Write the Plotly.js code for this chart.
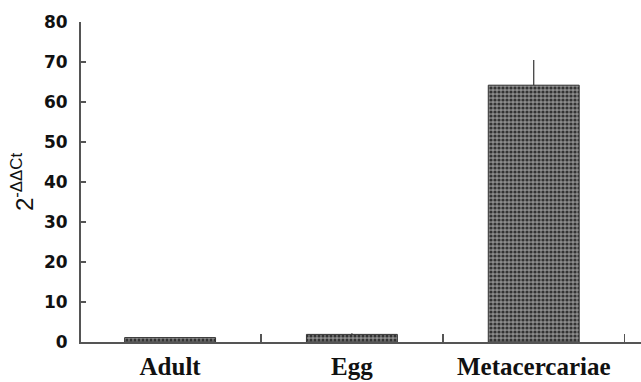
<!DOCTYPE html>
<html><head><meta charset="utf-8">
<script src="https://cdn.plot.ly/plotly-3.0.1.min.js"></script>
<style>html,body{margin:0;padding:0;background:#fff}#chart{width:641px;height:382px}</style>
</head><body><div id="chart"></div>
<script>
const categories = ["Adult", "Egg", "Metacercariae"];
const values = [1.1, 1.9, 64.2];
const errors = [0, 0.3, 6.3];
const yTicks = [0, 10, 20, 30, 40, 50, 60, 70, 80];

const trace = {
  type: "bar",
  x: categories,
  y: values,
  width: 0.5,
  error_y: {type: "data", array: errors, symmetric: false, arrayminus: [0,0,0], color: "#333", thickness: 1.2, width: 0},
  marker: {
    color: "#7a7a7a",
    line: {color: "#333", width: 1},
    pattern: {shape: ".", fgcolor: "#333", bgcolor: "#8c8c8c", size: 4, solidity: 0.5}
  },
  hoverinfo: "none"
};

const layout = {
  width: 641, height: 382,
  margin: {l: 81, r: 0, t: 22, b: 40},
  paper_bgcolor: "#fff", plot_bgcolor: "#fff",
  showlegend: false,
  xaxis: {
    type: "category",
    range: [-0.49, 2.59],
    showline: true, linecolor: "#555", linewidth: 2,
    ticks: "inside", tickson: "boundaries", ticklen: 8, tickcolor: "#555", tickwidth: 1.5,
    tickfont: {family: "Liberation Serif", size: 25, color: "#111", weight: "bold"},
    ticklabelstandoff: 1,
    showgrid: false, zeroline: false
  },
  yaxis: {
    range: [0, 80],
    tickvals: yTicks,
    showline: true, linecolor: "#555", linewidth: 2,
    ticks: "inside", ticklen: 5, tickcolor: "#555", tickwidth: 1.5,
    ticklabelstandoff: 8,
    tickfont: {family: "DejaVu Sans", size: 17, color: "#111", weight: "bold"},
    showgrid: false, zeroline: false,
    title: {text: "2<sup>-ΔΔCt</sup>", font: {family: "Liberation Sans", size: 24, color: "#111"}, standoff: 4}
  }
};

Plotly.newPlot("chart", [trace], layout, {displayModeBar: false, staticPlot: true});
</script></body></html>
